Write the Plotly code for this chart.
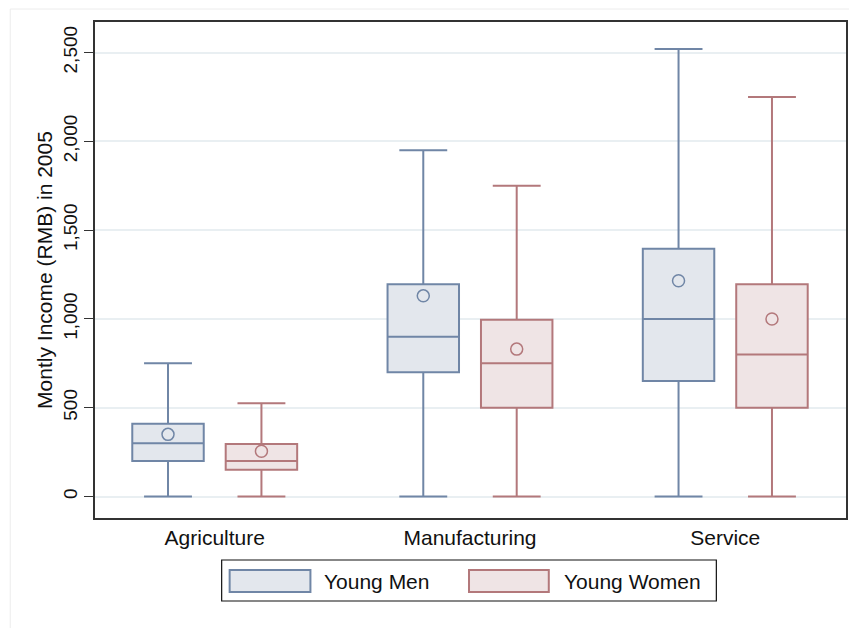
import plotly.graph_objects as go

categories = ["Agriculture", "Manufacturing", "Service"]
series = ["Young Men", "Young Women"]

men_min = [0, 0, 0]
men_q1 = [200, 700, 650]
men_median = [300, 900, 1000]
men_q3 = [410, 1195, 1395]
men_max = [750, 1950, 2520]
men_mean = [350, 1130, 1215]

women_min = [0, 0, 0]
women_q1 = [150, 500, 500]
women_median = [200, 750, 800]
women_q3 = [295, 995, 1195]
women_max = [525, 1750, 2250]
women_mean = [255, 830, 1000]

y_ticks = [0, 500, 1000, 1500, 2000, 2500]
y_tick_labels = ["0", "500", "1,000", "1,500", "2,000", "2,500"]

MEN_LINE = "#7086a6"
MEN_FILL = "#e3e7ed"
WOMEN_LINE = "#b3787b"
WOMEN_FILL = "#efe4e5"
OFFSET = 0.183
BOXW = 0.28

idx = list(range(len(categories)))
fig = go.Figure()

specs = [
    (series[0], -OFFSET, men_min, men_q1, men_median, men_q3, men_max, men_mean, MEN_LINE, MEN_FILL),
    (series[1], OFFSET, women_min, women_q1, women_median, women_q3, women_max, women_mean, WOMEN_LINE, WOMEN_FILL),
]
for name, off, mn, q1, med, q3, mx, mean, lc, fc in specs:
    xs = [i + off for i in idx]
    fig.add_trace(go.Box(
        name=name, x=xs, q1=q1, median=med, q3=q3, lowerfence=mn, upperfence=mx,
        width=BOXW, whiskerwidth=0.67, fillcolor=fc,
        line=dict(color=lc, width=2), showlegend=False, boxpoints=False,
    ))
    fig.add_trace(go.Scatter(
        x=xs, y=mean, mode="markers", showlegend=False,
        marker=dict(symbol="circle-open", size=12, color=lc, line=dict(width=1.5, color=lc)),
    ))

# custom legend (paper coordinates; window pixel -> paper)
def px_x(p):
    return (p - 95) / 753

def px_y(p):
    return (518 - p) / 496

shapes = [
    dict(type="rect", xref="paper", yref="paper", x0=px_x(222), x1=px_x(718), y0=px_y(601), y1=px_y(560),
         line=dict(color="#111111", width=1.2), fillcolor="white", layer="above"),
    dict(type="rect", xref="paper", yref="paper", x0=px_x(230), x1=px_x(311), y0=px_y(592), y1=px_y(570),
         line=dict(color=MEN_LINE, width=2), fillcolor=MEN_FILL, layer="above"),
    dict(type="rect", xref="paper", yref="paper", x0=px_x(470), x1=px_x(550), y0=px_y(592), y1=px_y(570),
         line=dict(color=WOMEN_LINE, width=2), fillcolor=WOMEN_FILL, layer="above"),
    dict(type="rect", xref="paper", yref="paper", x0=px_x(10), x1=px_x(900), y0=px_y(700), y1=px_y(9),
         line=dict(color="#ececec", width=1), layer="below"),
]
annotations = [
    dict(text=series[0], xref="paper", yref="paper", x=px_x(323), y=px_y(581), xanchor="left", yanchor="middle",
         showarrow=False, font=dict(size=21, color="#111111")),
    dict(text=series[1], xref="paper", yref="paper", x=px_x(563), y=px_y(581), xanchor="left", yanchor="middle",
         showarrow=False, font=dict(size=21, color="#111111")),
]

fig.update_layout(
    width=849, height=620,
    margin=dict(l=87, r=9, t=14, b=110),
    paper_bgcolor="white", plot_bgcolor="white",
    font=dict(family="Liberation Sans, Arial, sans-serif", color="#111111"),
    shapes=shapes, annotations=annotations,
    showlegend=False,
)
fig.update_xaxes(
    range=[-0.469, 2.473], tickvals=idx, ticktext=categories, ticks="",
    tickfont=dict(size=21), showgrid=False, zeroline=False,
    showline=True, linecolor="#333333", linewidth=1.5, mirror=True,
)
fig.update_yaxes(
    range=[-121, 2672], tickvals=y_ticks, ticktext=y_tick_labels, tickangle=-90,
    ticks="outside", ticklen=9, tickcolor="#333333", tickfont=dict(size=19),
    title=dict(text="Montly Income (RMB) in 2005", font=dict(size=21), standoff=1),
    showgrid=True, gridcolor="#e9eff2", gridwidth=1.5, zeroline=False,
    showline=True, linecolor="#333333", linewidth=1.5, mirror=True,
)

fig.write_html("out.html")
